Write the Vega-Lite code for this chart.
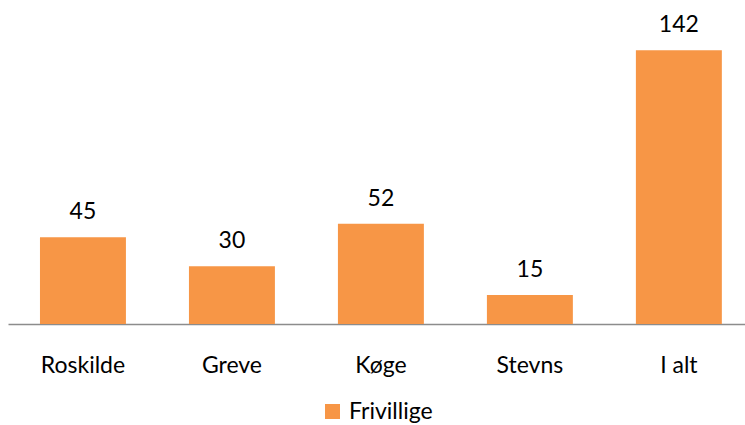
{
  "$schema": "https://vega.github.io/schema/vega-lite/v6.json",
  "autosize": {"type": "none"},
  "padding": {"left": 8, "top": 0, "right": 0, "bottom": 101},
  "width": 737,
  "height": 324,
  "background": "white",
  "config": {"view": {"stroke": null}, "font": "Lato"},
  "data": {"values": [
    {"kommune": "Roskilde", "antal": 45, "serie": "Frivillige"},
    {"kommune": "Greve", "antal": 30, "serie": "Frivillige"},
    {"kommune": "Køge", "antal": 52, "serie": "Frivillige"},
    {"kommune": "Stevns", "antal": 15, "serie": "Frivillige"},
    {"kommune": "I alt", "antal": 142, "serie": "Frivillige"}
  ]},
  "encoding": {
    "x": {"field": "kommune", "type": "nominal", "sort": null,
      "scale": {"paddingInner": 0.423, "paddingOuter": 0.185, "align": 0.58},
      "axis": {"title": null, "labelAngle": 0, "ticks": false, "domainColor": "#8C8C8C", "domainWidth": 1.5,
        "labelFontSize": 23, "labelColor": "#000000", "labelPadding": 30, "labelFont": "Lato"}},
    "y": {"field": "antal", "type": "quantitative", "scale": {"domain": [0, 168]}, "axis": null}
  },
  "layer": [
    {"mark": {"type": "bar", "color": "#F79646"},
     "encoding": {"color": {"field": "serie", "type": "nominal", "scale": {"range": ["#F79646"]},
       "legend": {"title": null, "orient": "none", "legendX": 313, "legendY": 400, "symbolType": "square", "symbolSize": 225,
         "labelFontSize": 23, "labelColor": "#000000", "labelFont": "Lato", "symbolStrokeWidth": 0, "labelOffset": 5}}}},
    {"mark": {"type": "text", "dy": -25, "fontSize": 23, "color": "#000000", "font": "Lato"},
     "encoding": {"text": {"field": "antal", "type": "quantitative"}}}
  ]
}
